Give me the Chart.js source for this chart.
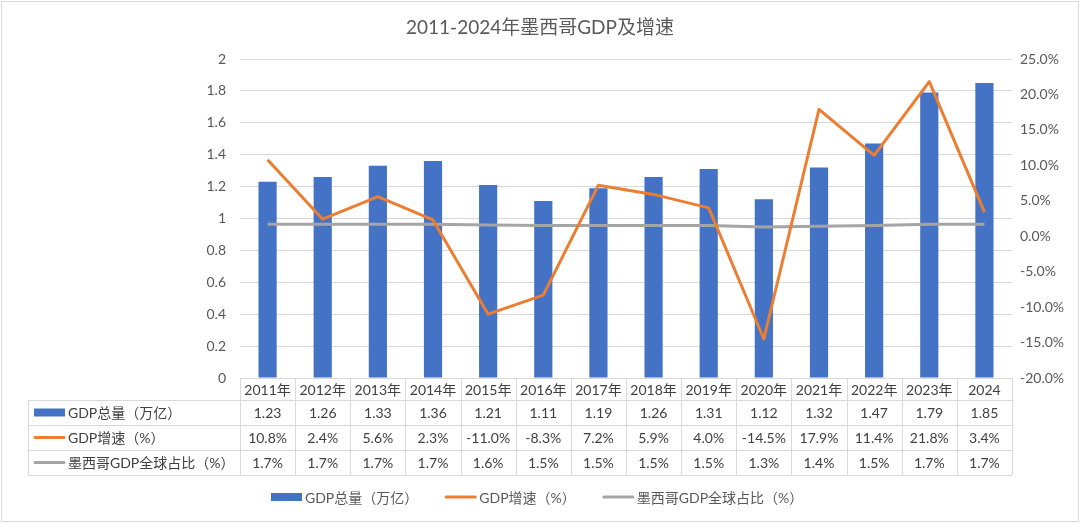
<!DOCTYPE html>
<html lang="zh">
<head>
<meta charset="UTF-8">
<title>2011-2024年墨西哥GDP及增速</title>
<script src="https://cdn.jsdelivr.net/npm/chart.js"></script>
<style>
  html, body { margin: 0; padding: 0; background: #fff; }
  canvas { display: block; }
</style>
</head>
<body>
<canvas id="gdpChart" width="1080" height="524"></canvas>
<script>
// 数据
const years = ['2011年', '2012年', '2013年', '2014年', '2015年', '2016年', '2017年', '2018年', '2019年', '2020年', '2021年', '2022年', '2023年', '2024'];
const gdpTotal = [1.23, 1.26, 1.33, 1.36, 1.21, 1.11, 1.19, 1.26, 1.31, 1.12, 1.32, 1.47, 1.79, 1.85];
const gdpGrowth = [10.8, 2.4, 5.6, 2.3, -11.0, -8.3, 7.2, 5.9, 4.0, -14.5, 17.9, 11.4, 21.8, 3.4];
const globalShare = [1.7, 1.7, 1.7, 1.7, 1.6, 1.5, 1.5, 1.5, 1.5, 1.3, 1.4, 1.5, 1.7, 1.7];
const seriesNames = ['GDP总量（万亿）', 'GDP增速（%）', '墨西哥GDP全球占比（%）'];
const chartTitle = '2011-2024年墨西哥GDP及增速';

const FONT = 'Lato, "Noto Sans CJK SC", sans-serif';
const GRID = '#d9d9d9';
const TEXT = '#595959';

// 数据表 + 图例 + 标题 + 外框
const tablePlugin = {
  id: 'dataTable',
  afterDraw(chart) {
    const ctx = chart.ctx;
    const area = chart.chartArea;
    const xs = chart.scales.x;
    const colW = xs.getPixelForValue(1) - xs.getPixelForValue(0);
    const edge = i => xs.getPixelForValue(i) - colW / 2;
    const n = years.length;
    const left = 28;
    const top = area.bottom;
    const catH = 22, rowH = 25;
    const rowsTop = top + catH;
    const bottom = rowsTop + rowH * 3;

    ctx.save();
    // 外框
    ctx.strokeStyle = GRID;
    ctx.lineWidth = 1;
    ctx.strokeRect(1.5, 1.5, chart.width - 3, chart.height - 4);

    // 标题
    ctx.fillStyle = TEXT;
    ctx.font = '19px ' + FONT;
    ctx.textAlign = 'center';
    ctx.textBaseline = 'middle';
    ctx.fillText(chartTitle, chart.width / 2, 28);

    // 表格线
    ctx.strokeStyle = GRID;
    ctx.lineWidth = 1;
    ctx.beginPath();
    ctx.moveTo(edge(0), top + 0.5); ctx.lineTo(edge(n), top + 0.5);
    for (let r = 0; r <= 3; r++) {
      const y = Math.round(rowsTop + r * rowH) + 0.5;
      ctx.moveTo(left, y); ctx.lineTo(edge(n), y);
    }
    for (let i = 0; i <= n; i++) {
      const x = Math.round(edge(i)) + 0.5;
      ctx.moveTo(x, top); ctx.lineTo(x, bottom);
    }
    ctx.moveTo(left + 0.5, rowsTop); ctx.lineTo(left + 0.5, bottom);
    ctx.stroke();

    // 类别行
    ctx.font = '14px ' + FONT;
    ctx.fillStyle = '#404040';
    ctx.textAlign = 'center';
    years.forEach((y, i) => ctx.fillText(y, xs.getPixelForValue(i), top + catH / 2 + 1));

    // 数据行
    const rows = [
      gdpTotal.map(v => v.toFixed(2)),
      gdpGrowth.map(v => v.toFixed(1) + '%'),
      globalShare.map(v => v.toFixed(1) + '%')
    ];
    const ds = chart.data.datasets;
    rows.forEach((vals, r) => {
      const cy = rowsTop + r * rowH + rowH / 2 + 1;
      ctx.textAlign = 'center';
      ctx.fillStyle = '#404040';
      vals.forEach((t, i) => ctx.fillText(t, xs.getPixelForValue(i), cy));
      drawMarker(ctx, ds[r], left + 6, cy - 1);
      ctx.textAlign = 'left';
      ctx.fillStyle = '#404040';
      ctx.fillText(ds[r].label, left + 40, cy);
    });

    // 图例
    const ly = 497;
    const gap = 27;
    ctx.font = '14px ' + FONT;
    const widths = ds.map(d => 34 + ctx.measureText(d.label).width);
    const total = widths.reduce((a, b) => a + b, 0) + gap * (ds.length - 1);
    let lx = Math.round(chart.width / 2 - total / 2 - 3);
    ds.forEach((d, k) => {
      drawMarker(ctx, d, lx, ly);
      ctx.textAlign = 'left';
      ctx.fillStyle = TEXT;
      ctx.fillText(d.label, lx + 34, ly + 1);
      lx += widths[k] + gap;
    });
    ctx.restore();
  }
};

function drawMarker(ctx, d, x, y) {
  if (d.type === 'line') {
    ctx.strokeStyle = d.borderColor;
    ctx.lineWidth = 3;
    ctx.lineCap = 'round';
    ctx.beginPath();
    ctx.moveTo(x + 1, y); ctx.lineTo(x + 30, y);
    ctx.stroke();
  } else {
    ctx.fillStyle = d.backgroundColor;
    ctx.fillRect(x, y - 4, 31, 8);
  }
}

new Chart(document.getElementById('gdpChart'), {
  type: 'bar',
  data: {
    labels: years,
    datasets: [
      {
        label: seriesNames[0],
        data: gdpTotal,
        backgroundColor: '#4472C4',
        yAxisID: 'y',
        barPercentage: 0.33,
        categoryPercentage: 1,
        order: 3
      },
      {
        type: 'line',
        label: seriesNames[1],
        data: gdpGrowth,
        borderColor: '#ED7D31',
        backgroundColor: '#ED7D31',
        borderWidth: 3,
        pointRadius: 0,
        borderJoinStyle: 'round',
        yAxisID: 'y1',
        order: 1
      },
      {
        type: 'line',
        label: seriesNames[2],
        data: globalShare,
        borderColor: '#A5A5A5',
        backgroundColor: '#A5A5A5',
        borderWidth: 3,
        pointRadius: 0,
        yAxisID: 'y1',
        order: 2
      }
    ]
  },
  options: {
    responsive: false,
    animation: false,
    devicePixelRatio: 1,
    layout: { padding: { top: 59, bottom: 146, left: 0, right: 0 } },
    plugins: {
      legend: { display: false },
      title: { display: false },
      tooltip: { enabled: false }
    },
    scales: {
      x: { display: false },
      y: {
        position: 'left',
        min: 0,
        max: 2,
        afterFit: s => { s.width = 240; },
        ticks: {
          stepSize: 0.2,
          padding: 14,
          color: TEXT,
          font: { family: FONT, size: 14 },
          callback: v => String(+Number(v).toFixed(1))
        },
        grid: { color: GRID, drawTicks: false },
        border: { display: false }
      },
      y1: {
        position: 'right',
        min: -20,
        max: 25,
        afterFit: s => { s.width = 68; },
        ticks: {
          stepSize: 5,
          padding: 8,
          color: TEXT,
          font: { family: FONT, size: 14 },
          callback: v => Number(v).toFixed(1) + '%'
        },
        grid: { display: false, drawTicks: false },
        border: { display: false }
      }
    }
  },
  plugins: [tablePlugin]
});
</script>
</body>
</html>
